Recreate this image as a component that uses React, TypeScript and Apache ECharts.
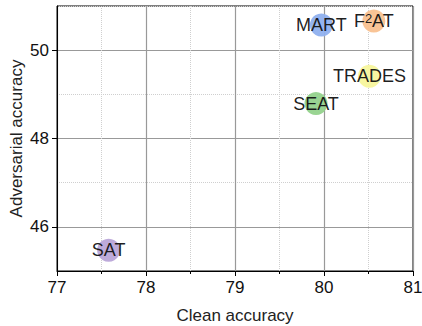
import React, { useEffect, useRef } from "react";
import * as echarts from "echarts";

// Methods: clean accuracy (x) vs adversarial accuracy (y)
const methods = ["SAT", "MART", "F2AT", "TRADES", "SEAT"];
const cleanAcc = [77.58, 79.97, 80.56, 80.51, 79.91];
const advAcc = [45.47, 50.57, 50.66, 49.41, 48.79];
const colors = ["#b9a5d8", "#8fb0ee", "#f9c190", "#f7f59c", "#93d28c"];

const xTicks = [77, 78, 79, 80, 81];
const yTicks = [46, 48, 50];

const FONT = "Liberation Sans, Arial, sans-serif";

// F2AT is written with a raised "2"
const richName = (name: string) =>
  name === "F2AT" ? "{t|F}{s|2}{t|AT}" : "{t|" + name + "}";

export default function App() {
  const ref = useRef<HTMLDivElement>(null);

  useEffect(() => {
    if (!ref.current) return;
    const chart = echarts.init(ref.current, undefined, { renderer: "svg" });

    chart.setOption({
      animation: false,
      grid: {
        left: 57,
        right: 9,
        top: 6,
        bottom: 55,
        outerBoundsMode: "none",
        containLabel: false,
        show: true,
        borderColor: "#000",
        borderWidth: 1,
      },
      xAxis: {
        type: "value",
        min: xTicks[0],
        max: xTicks[xTicks.length - 1],
        interval: 1,
        name: "Clean accuracy",
        nameLocation: "middle",
        nameGap: 36,
        nameMoveOverlap: false,
        nameTextStyle: { fontFamily: FONT, fontSize: 17, color: "#222" },
        axisLine: { lineStyle: { color: "#000", width: 1 } },
        axisTick: { show: true, inside: false, length: 5, lineStyle: { color: "#000" } },
        minorTick: { show: true, splitNumber: 2, length: 3, lineStyle: { color: "#000" } },
        axisLabel: { fontFamily: FONT, fontSize: 17, color: "#111", margin: 8 },
        splitLine: { show: true, lineStyle: { color: "#999", width: 1.2 } },
        minorSplitLine: {
          show: true,
          lineStyle: { color: "#cfcfcf", type: [1, 1], width: 1 },
        },
      },
      yAxis: [
        {
          type: "value",
          min: 45,
          max: 51,
          name: "Adversarial accuracy",
          nameLocation: "middle",
          nameGap: 32,
          nameMoveOverlap: false,
          nameTextStyle: { fontFamily: FONT, fontSize: 17, color: "#222" },
          axisLine: { show: true, lineStyle: { color: "#000", width: 1 } },
          axisTick: { show: true, inside: false, length: 5, customValues: yTicks, lineStyle: { color: "#000" } },
          axisLabel: { fontFamily: FONT, fontSize: 17, color: "#111", margin: 8, customValues: yTicks },
          splitLine: { show: true, lineStyle: { color: "#999", width: 1.2 } },
        },
        {
          // odd-valued dotted guides (45, 47, 49, 51)
          type: "value",
          min: 45,
          max: 51,
          interval: 2,
          position: "left",
          axisLine: { show: false },
          axisTick: { show: false },
          axisLabel: { show: false },
          splitLine: {
            show: true,
            lineStyle: { color: "#cfcfcf", type: [1, 1], width: 1 },
          },
        },
      ],
      series: [
        {
          type: "scatter",
          yAxisIndex: 0,
          symbolSize: 23,
          z: 5,
          data: methods.map((m, i) => ({
            name: m,
            value: [cleanAcc[i], advAcc[i]],
            itemStyle: { color: colors[i], opacity: 0.95 },
          })),
          label: {
            show: true,
            position: "inside",
            formatter: (p: any) => richName(p.name),
            rich: {
              t: { fontFamily: FONT, fontSize: 18, color: "#111" },
              s: { fontFamily: FONT, fontSize: 13, color: "#111", verticalAlign: "top" },
            },
          },
        },
      ],
    });

    return () => chart.dispose();
  }, []);

  return (
    <div
      ref={ref}
      style={{ position: "absolute", left: 0, top: 0, width: 422, height: 326 }}
    />
  );
}
